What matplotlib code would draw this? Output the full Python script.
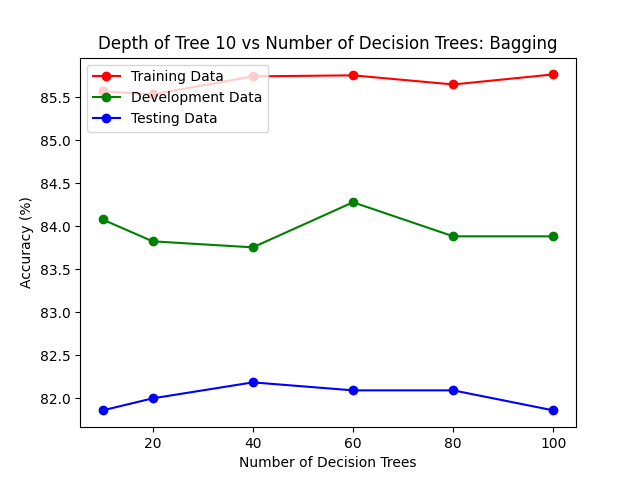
import matplotlib
matplotlib.use("Agg")
import matplotlib.pyplot as plt

trees = [10, 20, 40, 60, 80, 100]
training = [85.57, 85.535, 85.744, 85.756, 85.65, 85.767]
development = [84.08, 83.826, 83.756, 84.28, 83.884, 83.884]
testing = [81.86, 82.0, 82.186, 82.093, 82.093, 81.86]

fig, ax = plt.subplots(figsize=(6.4, 4.8), dpi=100)
ax.plot(trees, training, 'o-', color='red', label='Training Data')
ax.plot(trees, development, 'o-', color='green', label='Development Data')
ax.plot(trees, testing, 'o-', color='blue', label='Testing Data')
ax.set_title('Depth of Tree 10 vs Number of Decision Trees: Bagging')
ax.set_xlabel('Number of Decision Trees')
ax.set_ylabel('Accuracy (%)')
ax.legend(loc='upper left')
fig.savefig('out.png')
